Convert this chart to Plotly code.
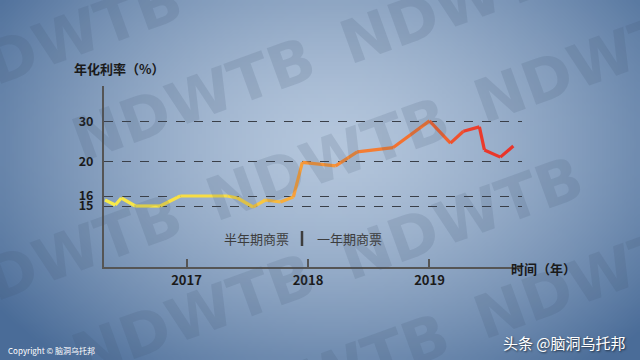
import base64, struct, zlib
import numpy as np
import plotly.graph_objects as go

# ---------------- data ----------------
dates = ["2016-05-01", "2016-06-01", "2016-06-19", "2016-07-31", "2016-10-14",
         "2016-12-13", "2017-05-04", "2017-06-03", "2017-07-20", "2017-08-26",
         "2017-10-10", "2017-11-18", "2017-12-15", "2018-03-25", "2018-05-29",
         "2018-09-14", "2019-01-01", "2019-03-05", "2019-04-13", "2019-05-31",
         "2019-06-15", "2019-08-02", "2019-09-10"]
rates = [15.6, 15.1, 15.8, 15.0, 15.0, 16.0, 16.0, 15.8, 14.9, 15.6, 15.4, 15.9,
         19.9, 19.5, 22.4, 23.5, 30.2, 24.6, 27.6, 28.7, 22.9, 21.1, 23.9]
y_ticks = [15, 16, 20, 30]
x_ticks = ["2017-01-01", "2018-01-01", "2019-01-01"]
x_ticklabels = ["2017", "2018", "2019"]

# broken (piecewise) y scale as drawn in the original
scale_vals = [10, 15, 16, 20, 30, 40]
scale_pos = [11, 61, 71, 105.5, 145.3, 185.1]


def ymap(v):
    return np.interp(v, scale_vals, scale_pos)


W, H = 640, 360


def px(x):
    return float(x) / W


def py(y):
    return 1 - float(y) / H


# ---------------- background gradient as PNG ----------------
def make_png(arr):
    h, w, _ = arr.shape
    raw = b"".join(b"\x00" + arr[i].tobytes() for i in range(h))

    def chunk(t, d):
        c = struct.pack(">I", len(d)) + t + d
        return c + struct.pack(">I", zlib.crc32(t + d) & 0xffffffff)
    return (b"\x89PNG\r\n\x1a\n" + chunk(b"IHDR", struct.pack(">IIBBBBB", w, h, 8, 2, 0, 0, 0))
            + chunk(b"IDAT", zlib.compress(raw, 9)) + chunk(b"IEND", b""))


gw, gh = 160, 90
gx, gy = np.meshgrid(np.linspace(0, 1, gw), np.linspace(0, 1, gh))
d = np.sqrt(((gx - 0.52) / 0.65) ** 2 + ((gy - 0.40) / 0.80) ** 2)
t = np.clip(d, 0, 1) ** 1.5
light = np.array([180, 198, 220])
dark = np.array([74, 108, 152])
img = (light[None, None, :] * (1 - t[..., None]) + dark[None, None, :] * t[..., None]).astype(np.uint8)
bg_uri = "data:image/png;base64," + base64.b64encode(make_png(img)).decode()

# ---------------- line colours ----------------
stops = [(0.0, (246, 238, 76)), (0.33, (249, 216, 66)), (0.52, (247, 160, 58)),
         (0.72, (243, 110, 48)), (0.85, (236, 60, 44)), (1.0, (232, 50, 40))]


def col(f):
    for (a, ca), (b, cb) in zip(stops[:-1], stops[1:]):
        if a <= f <= b:
            k = (f - a) / (b - a)
            c = [round(ca[i] + (cb[i] - ca[i]) * k) for i in range(3)]
            return "rgb(%d,%d,%d)" % tuple(c)
    return "rgb(%d,%d,%d)" % stops[-1][1]


fig = go.Figure()
yy = ymap(np.array(rates))
n = len(dates)
for i in range(n - 1):
    fig.add_trace(go.Scatter(x=[dates[i], dates[i + 1]], y=[yy[i], yy[i + 1]], mode="lines",
                             line=dict(color=col((i + 0.5) / (n - 1)), width=3.2),
                             hoverinfo="skip", showlegend=False))

font_cjk = "Noto Sans CJK SC"

# watermark (decorative, tiled words along -20 degree rows)
step = 285
dx, dy = step * np.cos(np.deg2rad(20)), -step * np.sin(np.deg2rad(20))
for r in range(-1, 9):
    for c in range(0, 4):
        cx = 60 + c * dx + (r % 2) * 0.5 * dx
        cy = 40 + r * 108 + c * dy + (r % 2) * 0.5 * dy
        if -80 < cx < 720 and -40 < cy < 400:
            fig.add_annotation(x=px(cx), y=py(cy), xref="paper", yref="paper", text="NDWTB",
                               showarrow=False, textangle=-20, xanchor="center", yanchor="middle",
                               font=dict(family="DejaVu Sans", size=60, color="rgba(58,78,108,0.15)",
                                         weight="bold"))

fig.add_layout_image(dict(source=bg_uri, xref="paper", yref="paper", x=0, y=1, sizex=1, sizey=1,
                          sizing="stretch", layer="below", xanchor="left", yanchor="top"))

fig.update_layout(
    width=W, height=H, margin=dict(l=0, r=0, t=0, b=0),
    paper_bgcolor="#8ea6c4", plot_bgcolor="rgba(0,0,0,0)",
    showlegend=False,
    xaxis=dict(domain=[px(104), px(522)], type="date", range=["2016-04-28", "2019-10-06"],
               tickvals=x_ticks, ticktext=x_ticklabels, ticks="inside", ticklen=8, tickwidth=2,
               tickcolor="#555555", showline=True, linecolor="#555555", linewidth=2,
               showgrid=False, zeroline=False,
               tickfont=dict(family=font_cjk, size=13, color="#1a1a1a", weight="bold")),
    yaxis=dict(domain=[py(267), py(86)], range=[0, 181], tickvals=list(ymap(np.array(y_ticks))),
               ticktext=[str(v) for v in y_ticks], ticks="", showline=True, linecolor="#555555",
               linewidth=2, showgrid=True, gridcolor="#3a3f48", griddash="dash", gridwidth=1,
               zeroline=False, ticklabelstandoff=6,
               tickfont=dict(family=font_cjk, size=12.5, color="#1a1a1a", weight="bold")),
)

ann = [
    dict(x=px(72), y=py(68), text="年化利率（%）", xanchor="left", size=13, color="#1a1a1a", weight="bold"),
    dict(x=px(509), y=py(268), text="时间（年）", xanchor="left", size=13, color="#1a1a1a", weight="bold"),
    dict(x=px(291), y=py(238), text="半年期商票", xanchor="right", size=13, color="#3d3d3d", weight="normal"),
    dict(x=px(315), y=py(238), text="一年期商票", xanchor="left", size=13, color="#3d3d3d", weight="normal"),
]
for a in ann:
    fig.add_annotation(x=a["x"], y=a["y"], xref="paper", yref="paper", text=a["text"], showarrow=False,
                       xanchor=a["xanchor"], yanchor="middle",
                       font=dict(family=font_cjk, size=a["size"], color=a["color"], weight=a["weight"]))

fig.add_shape(type="line", xref="paper", yref="paper", x0=px(302), x1=px(302), y0=py(231), y1=py(246),
              line=dict(color="#3d3d3d", width=2.5))

fig.add_annotation(x=px(6), y=py(350), xref="paper", yref="paper", text="Copyright © 脑洞乌托邦",
                   showarrow=False, xanchor="left", yanchor="middle",
                   font=dict(family=font_cjk, size=8, color="white"))
fig.add_annotation(x=px(628), y=py(342), xref="paper", yref="paper", text="头条 @脑洞乌托邦",
                   showarrow=False, xanchor="right", yanchor="middle",
                   font=dict(family=font_cjk, size=15, color="white", shadow="1px 1px 2px rgba(0,0,0,0.6)"))

fig.write_html("out.html")
